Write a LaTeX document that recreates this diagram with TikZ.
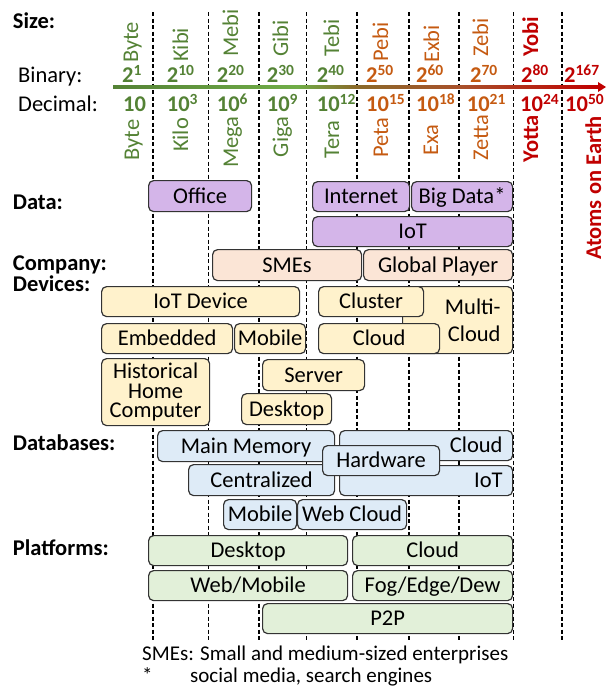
\documentclass[tikz,border=0pt]{standalone}
\usepackage{fontspec}
\setmainfont{Carlito}
\definecolor{dgreen}{HTML}{548235}
\definecolor{lgreen}{HTML}{70AD47}
\definecolor{olivebr}{HTML}{8A6A2A}
\definecolor{brownor}{HTML}{A8502A}
\definecolor{dorange}{HTML}{C55A11}
\definecolor{dred}{HTML}{C00000}
\definecolor{fpurple}{HTML}{D4B5E9}
\definecolor{fpeach}{HTML}{FBE5D6}
\definecolor{fyellow}{HTML}{FFF2CC}
\definecolor{fblue}{HTML}{DEEBF7}
\definecolor{fgreen}{HTML}{E2F0D9}
\pgfdeclarehorizontalshading{axisgrad}{100bp}{color(0bp)=(dgreen); color(25bp)=(dgreen); color(44bp)=(lgreen); color(50bp)=(olivebr); color(61bp)=(brownor); color(75bp)=(dred); color(100bp)=(dred)}
\newcommand\supx[1]{\raisebox{0.3em}{\fontsize{15.5}{15.5}\selectfont #1}}
\newcommand\bx[8][]{%
  \node[box, fill=#3, minimum width={#6pt-#4pt}, minimum height={#7pt-#5pt}, #1] (#2) at (#4,#5) {#8};}
\begin{document}
\begin{tikzpicture}[x=1pt,y=-1pt,
  font=\fontsize{22.5}{27}\selectfont,
  gridline/.style={line width=1.4pt, dash pattern=on 4pt off 2.5pt, black},
  box/.style={draw=black!80, line width=1.2pt, rounded corners=5pt, inner sep=0pt,
    text height=14.5pt, text depth=0pt, anchor=north west},
  lab/.style={anchor=base west, inner sep=0pt, font=\fontsize{22.5}{27}\selectfont\bfseries},
  plain/.style={anchor=base west, inner sep=0pt},
  note/.style={anchor=base west, inner sep=0pt, font=\fontsize{21}{25}\selectfont},
  num/.style={anchor=base west, inner sep=0pt, font=\fontsize{22.5}{27}\selectfont\bfseries},
  vup/.style={rotate=90, anchor=base west, inner sep=0pt},
  vmid/.style={rotate=90, anchor=base, inner sep=0pt},
]
\useasboundingbox (0,0) rectangle (606,689);

% grid lines
\foreach \x [count=\i] in {153,208.5,259,306.5,357,409,459,513.5,562}{
  \coordinate (gt\i) at (\x,12);
  \coordinate (gb\i) at (\x,640);
  \draw[gridline] (gt\i) -- (gb\i);
}

% axis arrow
\coordinate (axL) at (113,87);
\coordinate (axE) at (598,87);
\coordinate (axR) at (606,87);
\shade[shading=axisgrad] ([yshift=1.2pt]axL) rectangle ([yshift=-1.2pt]axE);
\fill[dred] ([yshift=5pt]axE) -- (axR) -- ([yshift=-5pt]axE) -- cycle;

% left labels
\node[lab] (lsize) at (12.7,28) {Size:};
\node[plain] (lbin) at (18,82) {Binary:};
\node[plain] (ldec) at (18,111) {Decimal:};
\node[lab] (ldata) at (12.7,209) {Data:};
\node[lab] (lcomp) at (12.7,270) {Company:};
\node[lab] (ldev) at (12.7,291) {Devices:};
\node[lab] (ldb) at (12.7,450) {Databases:};
\node[lab] (lplat) at (12.7,555) {Platforms:};

% binary prefixes (top)
\foreach \x/\y/\c/\t [count=\i] in {138/63/dgreen/Byte, 188/62/dgreen/Kibi, 238/57/dgreen/Mebi, 288/57/dgreen/Gibi, 339/57/dgreen/Tebi, 388/62/dorange/Pebi, 439/63/dorange/Exbi, 488/57/dorange/Zebi}{
  \node[vup, text=\c] (pre\i) at (\x,\y) {\t};
}
\node[vup, text=dred, font=\fontsize{22.5}{27}\selectfont\bfseries] (pre9) at (538,57) {Yobi};

% binary numbers
\foreach \x/\c/\t [count=\i] in {122/dgreen/1, 166.7/dgreen/10, 216.7/dgreen/20, 266.7/dgreen/30, 316.7/dgreen/40, 366/dorange/50, 416/dorange/60, 470/dorange/70, 521/dred/80, 564/dred/167}{
  \node[num, text=\c] (bin\i) at (\x,82) {2\supx{\t}};
}
% decimal numbers
\node[num, text=dgreen] (dec1) at (123,111) {10};
\foreach \x/\c/\t [count=\i from 2] in {166.7/dgreen/3, 216.7/dgreen/6, 266.7/dgreen/9, 316.7/dgreen/12, 366/dorange/15, 416/dorange/18, 466.7/dorange/21, 520/dred/24, 565/dred/50}{
  \node[num, text=\c] (dec\i) at (\x,111) {10\supx{\t}};
}

% decimal prefixes (bottom)
\foreach \x/\y/\c/\t [count=\i] in {139/140/dgreen/Byte, 188/135/dgreen/Kilo, 238/142/dgreen/Mega, 288/137/dgreen/Giga, 339/139.5/dgreen/Tera, 388/137.5/dorange/Peta, 438/140/dorange/Exa, 488/137.5/dorange/Zetta}{
  \node[vmid, text=\c] (dp\i) at (\x,\y) {\t};
}
\node[vmid, text=dred, font=\fontsize{22.5}{27}\selectfont\bfseries] (dp9) at (538,139) {Yotta};
\node[vmid, text=dred, font=\fontsize{22.5}{27}\selectfont\bfseries] (atoms) at (601,188) {Atoms on Earth};

% Data
\bx{office}{fpurple}{148}{180}{251}{211}{Office}
\bx{internet}{fpurple}{312}{181}{409}{211}{Internet}
\bx{bigdata}{fpurple}{411}{181}{512}{211}{Big Data*}
\bx{iotdata}{fpurple}{312}{216}{512}{246}{IoT}
% Company
\bx{smes}{fpeach}{212}{249}{361}{280}{SMEs}
\bx{global}{fpeach}{363}{249}{512}{280}{Global Player}
% Devices
\bx{iotdev}{fyellow}{101}{286}{299}{316}{IoT Device}
\bx[align=right, text width=86pt, inner xsep=12pt, text height={}, text depth={}]{multicloud}{fyellow}{402}{286}{512}{353}{Multi-\\Cloud}
\bx{cluster}{fyellow}{318}{286}{423}{316}{Cluster}
\bx{embedded}{fyellow}{101}{323}{232}{353}{Embedded}
\bx{mobiledev}{fyellow}{234}{323}{305}{353}{Mobile}
\bx{clouddev}{fyellow}{318}{323}{439}{353}{Cloud}
\bx[align=center, text height={}, text depth={}, font=\fontsize{22.5}{19.5}\selectfont]{historical}{fyellow}{101}{358}{209}{425}{Historical\\Home\\Computer}
\bx{server}{fyellow}{262}{359}{364}{390}{Server}
\bx{desktopdev}{fyellow}{241}{393}{331}{424}{Desktop}
% Databases
\bx{mainmem}{fblue}{157}{430}{334}{461}{Main Memory}
\bx[align=right, text width=153pt, inner xsep=10pt]{clouddb}{fblue}{339}{430}{512}{460}{Cloud}
\bx{centralized}{fblue}{188}{464}{334}{495}{Centralized}
\bx[align=right, text width=153pt, inner xsep=10pt]{iotdb}{fblue}{339}{465}{512}{495}{IoT}
\bx{hardware}{fblue}{322}{445}{439}{475}{Hardware}
\bx{mobiledb}{fblue}{223}{499}{296}{529}{Mobile}
\bx{webcloud}{fblue}{297}{499}{406}{529}{Web Cloud}
% Platforms
\bx{desktopplat}{fgreen}{148}{535}{347}{565}{Desktop}
\bx{cloudplat}{fgreen}{352}{535}{512}{565}{Cloud}
\bx{webmobile}{fgreen}{148}{570}{347}{600}{Web/Mobile}
\bx{fogedge}{fgreen}{352}{570}{512}{600}{Fog/Edge/Dew}
\bx{p2p}{fgreen}{262}{603}{512}{633}{P2P}

% footnotes
\node[note] (fn1) at (142,660) {SMEs: Small and medium-sized enterprises};
\node[note] (fn2) at (142,682) {\makebox[48pt][l]{*}social media, search engines};
\end{tikzpicture}
\end{document}
